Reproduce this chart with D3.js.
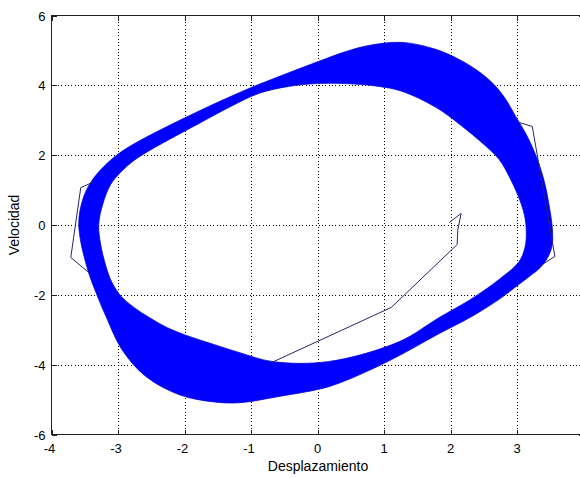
<!DOCTYPE html>
<html>
<head>
<meta charset="utf-8">
<script src="https://cdn.jsdelivr.net/npm/d3@7"></script>
<style>
  html, body { margin: 0; padding: 0; background: #fff; overflow: hidden; }
  svg { display: block; font-family: "Liberation Sans", Arial, Helvetica, sans-serif; }
</style>
</head>
<body>
<svg id="chart" width="580" height="478"></svg>
<script>
// Phase portrait: displacement vs velocity of a forced oscillator.
// The settled orbits sweep a band; its outer and inner edges are listed
// as [x, v] pairs, traced clockwise.
const bandOuter = [
  [-3.59, 0.01], [-3.53, 0.73], [-3.41, 1.22], [-3.21, 1.68], [-2.94, 2.11],
  [-2.53, 2.56], [-2.08, 2.99], [-1.63, 3.40], [-1.03, 3.91], [-0.58, 4.25],
  [-0.02, 4.66], [0.43, 4.97], [0.77, 5.14], [1.27, 5.23], [1.78, 5.03],
  [2.13, 4.74], [2.40, 4.43], [2.65, 4.03], [2.83, 3.60], [2.98, 3.11],
  [3.14, 2.59], [3.29, 1.96], [3.41, 1.25], [3.48, 0.59], [3.53, -0.07],
  [3.53, -0.56], [3.47, -0.90], [3.35, -1.22], [3.18, -1.48], [3.03, -1.70],
  [2.73, -2.13], [2.32, -2.62], [1.83, -3.11], [1.23, -3.74], [0.77, -4.17],
  [0.17, -4.63], [-0.58, -4.91], [-1.18, -5.09], [-1.59, -5.06], [-2.08, -4.86],
  [-2.58, -4.34], [-2.94, -3.57], [-3.18, -2.62], [-3.29, -2.13], [-3.47, -1.19]
];
const bandInner = [
  [-3.29, 0.01], [-3.23, 0.59], [-3.11, 1.16], [-2.95, 1.53], [-2.76, 1.85],
  [-2.53, 2.13], [-2.23, 2.45], [-1.78, 2.91], [-1.33, 3.37], [-0.88, 3.77],
  [-0.43, 3.97], [-0.02, 4.05], [0.43, 4.05], [0.92, 3.97], [1.27, 3.83],
  [1.78, 3.37], [2.16, 2.85], [2.50, 2.31], [2.73, 1.88], [2.89, 1.36],
  [3.02, 0.82], [3.11, 0.30], [3.14, -0.19], [3.12, -0.64], [3.03, -1.05],
  [2.73, -1.56], [2.32, -2.11], [1.83, -2.65], [1.23, -3.34], [0.17, -3.91],
  [-0.68, -3.91], [-1.18, -3.65], [-1.56, -3.42], [-1.93, -3.19], [-2.26, -2.94],
  [-2.53, -2.65], [-2.76, -2.36], [-2.95, -2.05], [-3.09, -1.65], [-3.18, -1.19],
  [-3.26, -0.56]
];

// Transient from the initial condition until it joins the band.
const transientStart = [
  [1.98, 0.07], [2.16, 0.33], [2.11, -0.13], [2.10, -0.56], [1.11, -2.36], [-0.68, -3.93]
];
// Coarsely sampled early turns that poke outside the band.
const transientLeft = [
  [-3.36, 1.24], [-3.56, 1.07], [-3.71, -0.93], [-3.44, -1.36]
];
const transientRight = [
  [3.03, 2.94], [3.23, 2.82], [3.57, -0.90], [3.33, -1.19]
];

const xTicks = [-4, -3, -2, -1, 0, 1, 2, 3, 4];
const yTicks = [-6, -4, -2, 0, 2, 4, 6];
const xLabel = "Desplazamiento";
const yLabel = "Velocidad";

const W = 580;
const svg = d3.select("#chart");
const plotL = 51.5, plotR = 583.5, plotT = 15.5, plotB = 434.5;

const x = d3.scaleLinear().domain([-4, 4]).range([plotL, plotR]);
const y = d3.scaleLinear().domain([-6, 6]).range([plotB, plotT]);

// grid
const grid = svg.append("g").attr("stroke", "#000").attr("stroke-width", 1)
  .attr("stroke-dasharray", "1,2.3").attr("shape-rendering", "crispEdges");
grid.selectAll(".gx").data(xTicks.slice(1, -1)).join("line")
  .attr("x1", d => Math.round(x(d)) + 0.5).attr("x2", d => Math.round(x(d)) + 0.5)
  .attr("y1", plotT).attr("y2", plotB);
grid.selectAll(".gy").data(yTicks.slice(1, -1)).join("line")
  .attr("y1", d => Math.round(y(d)) + 0.5).attr("y2", d => Math.round(y(d)) + 0.5)
  .attr("x1", plotL).attr("x2", plotR);

svg.append("clipPath").attr("id", "plotclip")
  .append("rect").attr("x", plotL).attr("y", plotT)
  .attr("width", plotR - plotL).attr("height", plotB - plotT);

const plot = svg.append("g").attr("clip-path", "url(#plotclip)");

// band: outer ring minus inner ring
const ring = d3.line().x(d => x(d[0])).y(d => y(d[1])).curve(d3.curveCatmullRomClosed.alpha(0.5));
plot.append("path")
  .attr("d", ring(bandOuter) + ring(bandInner))
  .attr("fill", "#0000ff")
  .attr("fill-rule", "evenodd")
  .attr("stroke", "#0808d8")
  .attr("stroke-width", 0.8);

const poly = d3.line().x(d => x(d[0])).y(d => y(d[1]));
[transientStart, transientLeft, transientRight].forEach(seg => {
  plot.append("path")
    .attr("d", poly(seg))
    .attr("fill", "none")
    .attr("stroke", "#24246e")
    .attr("stroke-width", 1);
});

// axes box with inward ticks
const axes = svg.append("g").attr("stroke", "#222").attr("shape-rendering", "crispEdges");
axes.append("rect").attr("x", plotL).attr("y", plotT)
  .attr("width", plotR - plotL).attr("height", plotB - plotT)
  .attr("fill", "none").attr("stroke-width", 1);
const tl = 5;
xTicks.forEach(t => {
  const px = Math.round(x(t)) + 0.5;
  axes.append("line").attr("x1", px).attr("x2", px).attr("y1", plotB).attr("y2", plotB - tl);
  axes.append("line").attr("x1", px).attr("x2", px).attr("y1", plotT).attr("y2", plotT + tl);
});
yTicks.forEach(t => {
  const py = Math.round(y(t)) + 0.5;
  axes.append("line").attr("y1", py).attr("y2", py).attr("x1", plotL).attr("x2", plotL + tl);
  axes.append("line").attr("y1", py).attr("y2", py).attr("x1", plotR).attr("x2", plotR - tl);
});

// tick labels (those whose position falls past the canvas edge are left out)
const labels = svg.append("g").attr("font-size", 13).attr("fill", "#000");
labels.selectAll(".xl").data(xTicks.filter(d => x(d) < W)).join("text")
  .attr("x", d => x(d) - (d < 0 ? 2 : 0)).attr("y", plotB + 18)
  .attr("text-anchor", "middle").text(d => d);
labels.selectAll(".yl").data(yTicks).join("text")
  .attr("x", plotL - 6).attr("y", d => y(d) + 5)
  .attr("text-anchor", "end").text(d => d);

svg.append("text").attr("x", 318).attr("y", 471)
  .attr("text-anchor", "middle").attr("font-size", 14).text(xLabel);
svg.append("text").attr("transform", "translate(19,225) rotate(-90)")
  .attr("text-anchor", "middle").attr("font-size", 14).text(yLabel);
</script>
</body>
</html>
